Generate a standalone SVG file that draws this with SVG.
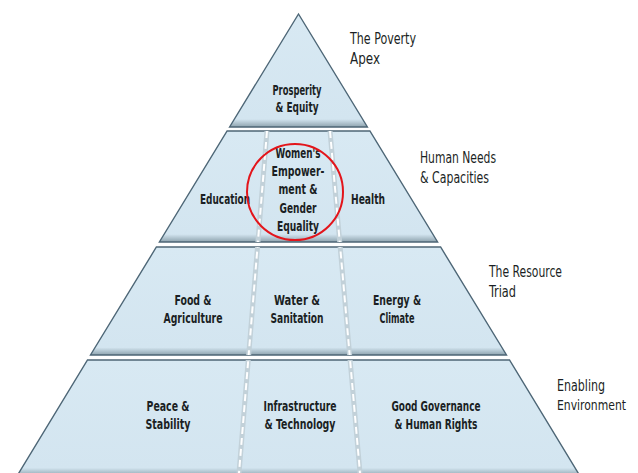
<svg xmlns="http://www.w3.org/2000/svg" width="638" height="473" viewBox="0 0 638 473">
<defs>
<linearGradient id="shade" x1="0" y1="0" x2="0" y2="1">
<stop offset="0" stop-color="#d8e9f3"/>
<stop offset="0.93" stop-color="#d3e5f0"/>
<stop offset="1" stop-color="#8ea3ae"/>
</linearGradient>
<clipPath id="tiers">
<polygon points="227.1,131 369.9,131 437.6,242 159.4,242"/>
<polygon points="156.4,247 440.6,247 506.5,355 90.5,355"/>
<polygon points="87.5,360 509.5,360 580,475 17,475"/>
</clipPath>
<style>
.tier{fill:url(#shade);stroke:#4d6676;stroke-width:1.4;stroke-linejoin:miter}
.cell{font-family:"DejaVu Sans Condensed","Liberation Sans",sans-serif;font-weight:bold;font-size:13.5px;fill:#1b1f24;text-anchor:middle}
.lab{font-family:"DejaVu Sans Condensed","Liberation Sans",sans-serif;font-size:16px;fill:#1b1f24}
.dband{stroke:#c2d1d9;stroke-width:5;fill:none}
.ddash{stroke:#ffffff;stroke-width:2;stroke-dasharray:7 4;fill:none}
</style>
</defs>
<rect width="638" height="473" fill="#ffffff"/>
<g id="tier-apex"><polygon class="tier" points="298.5,14 367.4,127 229.6,127"/></g>
<g id="tier-human-needs"><polygon class="tier" points="227.1,131 369.9,131 437.6,242 159.4,242"/></g>
<g id="tier-resource"><polygon class="tier" points="156.4,247 440.6,247 506.5,355 90.5,355"/></g>
<g id="tier-enabling"><polygon class="tier" points="87.5,360 509.5,360 580,476 17,476"/></g>
<g id="connectors" clip-path="url(#tiers)">
<line class="dband" x1="267" y1="131" x2="239" y2="473"/>
<line class="ddash" x1="267" y1="131" x2="239" y2="473"/>
<line class="dband" x1="330" y1="131" x2="360" y2="473"/>
<line class="ddash" x1="330" y1="131" x2="360" y2="473"/>
</g>
<g id="prosperity"><text class="cell" x="297" y="95" textLength="49" lengthAdjust="spacingAndGlyphs">Prosperity</text><text class="cell" x="297" y="112" textLength="43" lengthAdjust="spacingAndGlyphs">&amp; Equity</text></g>
<g id="education"><text class="cell" x="225" y="204" textLength="50" lengthAdjust="spacingAndGlyphs">Education</text></g>
<g id="womens-empowerment"><text class="cell" x="298" y="158" textLength="45" lengthAdjust="spacingAndGlyphs">Women's</text><text class="cell" x="298" y="176" textLength="53" lengthAdjust="spacingAndGlyphs">Empower-</text><text class="cell" x="298" y="194" textLength="39" lengthAdjust="spacingAndGlyphs">ment &amp;</text><text class="cell" x="298" y="213" textLength="37" lengthAdjust="spacingAndGlyphs">Gender</text><text class="cell" x="298" y="231" textLength="42" lengthAdjust="spacingAndGlyphs">Equality</text></g>
<g id="health"><text class="cell" x="368" y="204" textLength="34" lengthAdjust="spacingAndGlyphs">Health</text></g>
<g id="food"><text class="cell" x="193" y="305" textLength="37" lengthAdjust="spacingAndGlyphs">Food &amp;</text><text class="cell" x="193" y="323" textLength="59" lengthAdjust="spacingAndGlyphs">Agriculture</text></g>
<g id="water"><text class="cell" x="297" y="305" textLength="46" lengthAdjust="spacingAndGlyphs">Water &amp;</text><text class="cell" x="297" y="323" textLength="53" lengthAdjust="spacingAndGlyphs">Sanitation</text></g>
<g id="energy"><text class="cell" x="397" y="305" textLength="48" lengthAdjust="spacingAndGlyphs">Energy &amp;</text><text class="cell" x="397" y="323" textLength="35" lengthAdjust="spacingAndGlyphs">Climate</text></g>
<g id="peace"><text class="cell" x="168" y="411" textLength="43" lengthAdjust="spacingAndGlyphs">Peace &amp;</text><text class="cell" x="168" y="429" textLength="45" lengthAdjust="spacingAndGlyphs">Stability</text></g>
<g id="infrastructure"><text class="cell" x="300" y="411" textLength="73" lengthAdjust="spacingAndGlyphs">Infrastructure</text><text class="cell" x="300" y="429" textLength="71" lengthAdjust="spacingAndGlyphs">&amp; Technology</text></g>
<g id="governance"><text class="cell" x="436" y="411" textLength="89" lengthAdjust="spacingAndGlyphs">Good Governance</text><text class="cell" x="436" y="429" textLength="83" lengthAdjust="spacingAndGlyphs">&amp; Human Rights</text></g>
<g id="highlight"><circle cx="295" cy="192" r="48" fill="none" stroke="#e3151b" stroke-width="2"/></g>
<g id="labels">
<text class="lab" x="350" y="44" textLength="66" lengthAdjust="spacingAndGlyphs">The Poverty</text><text class="lab" x="350" y="64" textLength="30" lengthAdjust="spacingAndGlyphs">Apex</text>
<text class="lab" x="420" y="163" textLength="76" lengthAdjust="spacingAndGlyphs">Human Needs</text><text class="lab" x="420" y="183" textLength="69" lengthAdjust="spacingAndGlyphs">&amp; Capacities</text>
<text class="lab" x="489" y="277" textLength="73" lengthAdjust="spacingAndGlyphs">The Resource</text><text class="lab" x="489" y="297" textLength="27" lengthAdjust="spacingAndGlyphs">Triad</text>
<text class="lab" x="557" y="391" textLength="48" lengthAdjust="spacingAndGlyphs">Enabling</text><text class="lab" x="557" y="410" style="font-size:14px" textLength="69" lengthAdjust="spacingAndGlyphs">Environment</text>
</g>
</svg>
